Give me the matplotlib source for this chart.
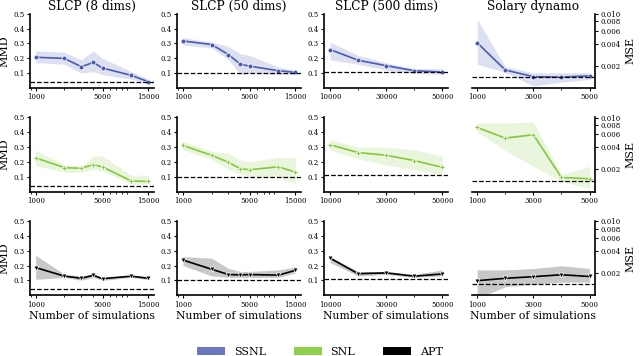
import numpy as np
import matplotlib.pyplot as plt
from matplotlib.patches import Patch
from matplotlib.ticker import ScalarFormatter, NullFormatter, FixedLocator

plt.rcParams['font.family'] = ['DejaVu Serif']

titles = ['SLCP (8 dims)', 'SLCP (50 dims)', 'SLCP (500 dims)', 'Solary dynamo']
methods = ['SSNL', 'SNL', 'APT']

# x values per column
n_slcp = [1000, 2000, 3000, 4000, 5000, 10000, 15000]
n_500 = [10000, 20000, 30000, 40000, 50000]
n_solar = [1000, 2000, 3000, 4000, 5000]

# reference (dashed) lines per column
ref_lines = [0.04, 0.10, 0.11, 0.0014]

# SSNL
ssnl_8 = [0.207, 0.199, 0.143, 0.172, 0.134, 0.085, 0.042]
ssnl_8_lo = [0.17, 0.16, 0.10, 0.11, 0.09, 0.06, 0.03]
ssnl_8_hi = [0.25, 0.24, 0.19, 0.25, 0.20, 0.11, 0.06]
ssnl_50 = [0.317, 0.293, 0.225, 0.160, 0.147, 0.116, 0.105]
ssnl_50_lo = [0.29, 0.27, 0.19, 0.09, 0.10, 0.09, 0.09]
ssnl_50_hi = [0.34, 0.31, 0.28, 0.23, 0.22, 0.14, 0.12]
ssnl_500 = [0.259, 0.187, 0.150, 0.116, 0.107]
ssnl_500_lo = [0.19, 0.16, 0.12, 0.10, 0.09]
ssnl_500_hi = [0.31, 0.22, 0.17, 0.13, 0.13]
ssnl_sol = [0.0041, 0.00175, 0.00142, 0.0014, 0.00146]
ssnl_sol_lo = [0.0021, 0.00163, 0.00106, 0.0012, 0.0013]
ssnl_sol_hi = [0.0085, 0.00195, 0.0016, 0.0016, 0.0016]

# SNL
snl_8 = [0.227, 0.161, 0.157, 0.182, 0.166, 0.071, 0.068]
snl_8_lo = [0.175, 0.13, 0.13, 0.15, 0.14, 0.05, 0.05]
snl_8_hi = [0.28, 0.18, 0.17, 0.24, 0.24, 0.11, 0.11]
snl_50 = [0.311, 0.245, 0.197, 0.154, 0.147, 0.167, 0.131]
snl_50_lo = [0.28, 0.22, 0.15, 0.12, 0.10, 0.10, 0.05]
snl_50_hi = [0.34, 0.27, 0.26, 0.21, 0.20, 0.23, 0.23]
snl_500 = [0.316, 0.263, 0.245, 0.209, 0.163]
snl_500_lo = [0.28, 0.22, 0.18, 0.15, 0.11]
snl_500_hi = [0.35, 0.30, 0.30, 0.28, 0.24]
snl_sol = [0.0074, 0.0053, 0.0059, 0.00155, 0.00149]
snl_sol_lo = [0.0065, 0.0036, 0.0022, 0.00137, 0.00109]
snl_sol_hi = [0.0085, 0.0085, 0.0088, 0.00167, 0.0022]

# APT
apt_8 = [0.186, 0.128, 0.114, 0.134, 0.111, 0.128, 0.114]
apt_8_lo = [0.107, 0.12, 0.10, 0.12, 0.10, 0.12, 0.105]
apt_8_hi = [0.27, 0.14, 0.13, 0.14, 0.12, 0.135, 0.12]
apt_50 = [0.237, 0.175, 0.139, 0.137, 0.139, 0.135, 0.167]
apt_50_lo = [0.20, 0.13, 0.12, 0.12, 0.12, 0.12, 0.15]
apt_50_hi = [0.26, 0.25, 0.18, 0.16, 0.16, 0.17, 0.19]
apt_500 = [0.250, 0.145, 0.150, 0.128, 0.143]
apt_500_lo = [0.22, 0.13, 0.14, 0.12, 0.13]
apt_500_hi = [0.26, 0.16, 0.16, 0.14, 0.17]
apt_sol = [0.00157, 0.00169, 0.00178, 0.00189, 0.00179]
apt_sol_lo = [0.0009, 0.0013, 0.0014, 0.0015, 0.0015]
apt_sol_hi = [0.0022, 0.0022, 0.0023, 0.0025, 0.0023]

rows = [
    [(ssnl_8, ssnl_8_lo, ssnl_8_hi), (ssnl_50, ssnl_50_lo, ssnl_50_hi),
     (ssnl_500, ssnl_500_lo, ssnl_500_hi), (ssnl_sol, ssnl_sol_lo, ssnl_sol_hi)],
    [(snl_8, snl_8_lo, snl_8_hi), (snl_50, snl_50_lo, snl_50_hi),
     (snl_500, snl_500_lo, snl_500_hi), (snl_sol, snl_sol_lo, snl_sol_hi)],
    [(apt_8, apt_8_lo, apt_8_hi), (apt_50, apt_50_lo, apt_50_hi),
     (apt_500, apt_500_lo, apt_500_hi), (apt_sol, apt_sol_lo, apt_sol_hi)],
]
xs = [n_slcp, n_slcp, n_500, n_solar]

line_colors = ['#4a5bb0', '#84c83c', '#000000']
band_colors = ['#dde0f0', '#e9f5dc', '#c8c8c8']
patch_colors = ['#6a78c0', '#8fd14f', '#000000']
markers = ['o', 'P', 'v']

fig, axes = plt.subplots(3, 4, figsize=(6.4, 3.56), dpi=100)
fig.subplots_adjust(left=0.047, right=0.93, top=0.961, bottom=0.171,
                    wspace=0.19, hspace=0.40)

for r in range(3):
    for c in range(4):
        ax = axes[r, c]
        y, lo, hi = rows[r][c]
        x = xs[c]
        ax.fill_between(x, lo, hi, color=band_colors[r], lw=0)
        ax.plot(x, y, color=line_colors[r], lw=1.2, marker=markers[r],
                ms=3.5, mec='white', mew=0.5)
        ax.axhline(ref_lines[c], color='black', ls='--', lw=0.9)
        ax.spines['top'].set_visible(False)
        ax.tick_params(labelsize=5, length=2.5, width=0.8, pad=1.5)
        ax.tick_params(which='minor', length=1.5, width=0.6)
        for s in ax.spines.values():
            s.set_linewidth(1.2)
        if c < 2:
            ax.set_xscale('log')
            ax.xaxis.set_major_locator(FixedLocator([1000, 5000, 15000]))
            ax.xaxis.set_major_formatter(ScalarFormatter())
            ax.xaxis.set_minor_formatter(NullFormatter())
        elif c == 2:
            ax.set_xticks([10000, 30000, 50000])
            ax.set_xticks([20000, 40000], minor=True)
        else:
            ax.set_xticks([1000, 3000, 5000])
            ax.set_xticks([2000, 4000], minor=True)
        if c < 3:
            ax.spines['right'].set_visible(False)
            ax.set_ylim(0, 0.5)
            ax.set_yticks([0.1, 0.2, 0.3, 0.4, 0.5])
        else:
            ax.spines['left'].set_visible(False)
            ax.set_yscale('log')
            ax.set_ylim(0.001, 0.0101)
            ax.yaxis.tick_right()
            ax.yaxis.set_label_position('right')
            ax.yaxis.set_major_locator(FixedLocator([0.002, 0.004, 0.006, 0.008, 0.010]))
            ax.yaxis.set_major_formatter(plt.FuncFormatter(lambda v, p: '%.3f' % v))
            ax.yaxis.set_minor_locator(FixedLocator([]))
            ax.set_ylabel('MSE', fontsize=8, labelpad=3)
        if c == 0:
            ax.set_ylabel('MMD', fontsize=8, labelpad=3)
        if r == 0:
            ax.set_title(titles[c], fontsize=8.7, pad=3)
        if r == 2:
            ax.set_xlabel('Number of simulations', fontsize=7.8, labelpad=2)

handles = [Patch(facecolor=patch_colors[i], label=methods[i]) for i in range(3)]
fig.legend(handles=handles, loc='lower center', ncol=3, frameon=False,
           fontsize=8, bbox_to_anchor=(0.5, -0.03), handlelength=2.5,
           columnspacing=2.5)

fig.savefig('out.png', dpi=100)
